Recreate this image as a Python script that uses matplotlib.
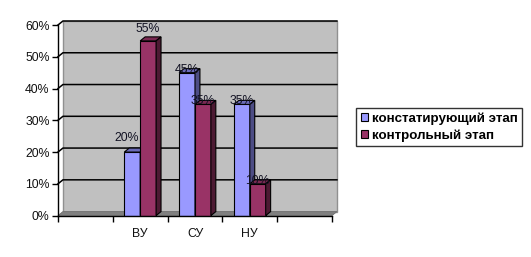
import matplotlib
matplotlib.use("Agg")
import matplotlib.pyplot as plt
from matplotlib.patches import Polygon, Rectangle

# Data
categories = ["", "ВУ", "СУ", "НУ", ""]
series_names = ["констатирующий этап", "контрольный этап"]
stage1 = [None, 0.20, 0.45, 0.35, None]
stage2 = [None, 0.55, 0.35, 0.10, None]
ytick_labels = ["0%", "10%", "20%", "30%", "40%", "50%", "60%"]

# Styles
front_colors = ["#9999FF", "#993366"]
top_colors = ["#6B6BB8", "#7A2952"]
side_colors = ["#4D4D85", "#4D1A33"]
wall_color = "#C0C0C0"
floor_color = "#808080"
BAR_W = 0.29
DX, DY = 0.09, 0.0126           # 3D depth offset in data units
# label offsets in pixels (dx, dy) per series
label_off = [[(0, 0), (-6, 14), (0, 3), (0, 3.5)],
             [(0, 0), (0, 12), (0, 3.5), (0, 3)]]

plt.rcParams["font.family"] = ["Liberation Sans", "DejaVu Sans"]

fig = plt.figure(figsize=(5.31, 2.57), dpi=100)
ax = fig.add_axes([58 / 531, 41.4 / 257, 274 / 531, 190.6 / 257])
n = len(categories)
x0, x1 = -0.5, n - 0.5
ymax = 0.6
ax.set_xlim(x0, x1)
ax.set_ylim(0, ymax)

# side wall, back wall and floor
ax.add_patch(Polygon([(x0, 0), (x0 + DX, DY), (x0 + DX, ymax + DY), (x0, ymax)],
                     closed=True, facecolor="white", edgecolor="none",
                     clip_on=False, zorder=0))
ax.add_patch(Rectangle((x0 + DX, DY), x1 - x0, ymax, facecolor=wall_color,
                       edgecolor="#909090", lw=1, clip_on=False, zorder=0.5))
ax.add_patch(Polygon([(x0, 0), (x1, 0), (x1 + DX, DY), (x0 + DX, DY)],
                     closed=True, facecolor=floor_color, edgecolor="#707070",
                     lw=0.6, clip_on=False, zorder=1))

# gridlines on back wall with diagonals to the front axis
for k in range(1, len(ytick_labels)):
    y = k * 0.1
    ax.plot([x0, x0 + DX, x1 + DX], [y, y + DY, y + DY], color="black",
            lw=1.1, clip_on=False, zorder=1)

# bars
xs = list(range(n))
for s, vals in enumerate([stage1, stage2]):
    pos = [x + (s - 0.5) * BAR_W for x, v in zip(xs, vals) if v is not None]
    hs = [v for v in vals if v is not None]
    bars = ax.bar(pos, hs, width=BAR_W, color=front_colors[s],
                  edgecolor="black", lw=0.8, zorder=3 + s * 2)
    for b in bars:
        l, r, h = b.get_x(), b.get_x() + b.get_width(), b.get_height()
        ax.add_patch(Polygon([(l, h), (r, h), (r + DX, h + DY), (l + DX, h + DY)],
                             closed=True, facecolor=top_colors[s],
                             edgecolor="black", lw=0.8, zorder=3 + s * 2))
        ax.add_patch(Polygon([(r, 0), (r + DX, DY), (r + DX, h + DY), (r, h)],
                             closed=True, facecolor=side_colors[s],
                             edgecolor="black", lw=0.8, zorder=3 + s * 2))

# value labels
for s, vals in enumerate([stage1, stage2]):
    for i, v in enumerate(vals):
        if v is None:
            continue
        xc = xs[i] + (s - 0.5) * BAR_W
        ox, oy = label_off[s][i]
        ax.annotate(f"{v * 100:.0f}%", (xc, v), xytext=(ox, oy),
                    textcoords="offset pixels", ha="center", va="center",
                    fontsize=8.8, color="#111122", zorder=10)

# axes
for side in ["top", "right"]:
    ax.spines[side].set_visible(False)
ax.spines["left"].set_linewidth(1)
ax.spines["bottom"].set_linewidth(1)
ax.spines["left"].set_zorder(6)
ax.spines["bottom"].set_zorder(6)
ax.set_yticks([k * 0.1 for k in range(len(ytick_labels))])
ax.set_yticklabels(ytick_labels)
ax.tick_params(axis="y", length=4, width=1, pad=2, labelsize=8.8,
               labelcolor="#111111")
ax.set_xticks(xs)
ax.set_xticklabels(categories)
ax.tick_params(axis="x", which="major", length=0, pad=9, labelsize=8.8,
               labelcolor="#111111")
ax.set_xticks([x - 0.5 for x in xs] + [x1], minor=True)
ax.tick_params(axis="x", which="minor", length=4, width=1)

# legend
handles = [Rectangle((0, 0), 1, 1, facecolor=c, edgecolor="black", lw=0.8)
           for c in front_colors]
leg = fig.legend(handles, series_names, loc="upper left",
                 bbox_to_anchor=(356 / 531, 1 - 108 / 257),
                 prop={"size": 9.6, "weight": "bold"}, fancybox=False,
                 handlelength=0.55, handleheight=0.55, handletextpad=0.3,
                 borderpad=0.35, labelspacing=0.3, borderaxespad=0)
leg.get_frame().set_edgecolor("black")
leg.get_frame().set_linewidth(1)

fig.savefig("out.png", dpi=100)
